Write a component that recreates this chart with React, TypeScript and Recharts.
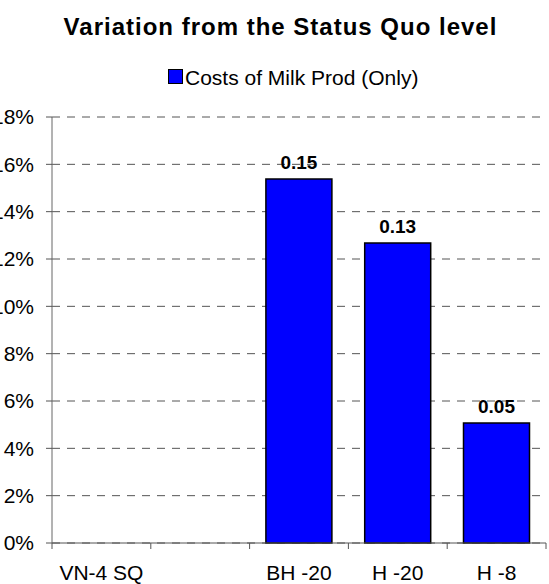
import React from 'react';
import { BarChart, Bar, XAxis, YAxis, CartesianGrid, LabelList } from 'recharts';

// categories on the x axis (second slot is empty in the source chart)
const CATEGORIES = ['VN-4 SQ', '', 'BH -20', 'H -20', 'H -8'];
// share of variation from status quo; null = no bar
const MILK_COSTS: (number | null)[] = [null, null, 0.1538, 0.1268, 0.0507];
const Y_TICKS = [0, 0.02, 0.04, 0.06, 0.08, 0.1, 0.12, 0.14, 0.16, 0.18];

const SERIES_NAME = 'Costs of Milk Prod (Only)';
const FONT = '"Liberation Sans", Arial, sans-serif';

const data = CATEGORIES.map((name, i) => ({ name, value: MILK_COSTS[i] }));

const CategoryTick = (props: any) => {
  const { x, y, payload, index } = props;
  const half = payload.offset ?? 0;
  const axisY = y - 22;
  return (
    <g>
      <line x1={x - half} x2={x - half} y1={axisY} y2={axisY + 6} stroke="#555" />
      {index === CATEGORIES.length - 1 && (
        <line x1={x + half} x2={x + half} y1={axisY} y2={axisY + 6} stroke="#555" />
      )}
      <text x={x} y={y} dy="0.71em" textAnchor="middle" fontSize={21} fill="#000" fontFamily={FONT}>
        {payload.value}
      </text>
    </g>
  );
};

export default function App() {
  return (
    <div
      style={{
        position: 'absolute',
        top: 0,
        left: 0,
        width: 549,
        height: 584,
        overflow: 'hidden',
        fontFamily: FONT,
        background: '#fff',
      }}
    >
      <div
        style={{
          position: 'absolute',
          top: 15,
          left: 6,
          width: 549,
          textAlign: 'center',
          fontSize: 24,
          lineHeight: '24px',
          fontWeight: 'bold',
          letterSpacing: 1,
        }}
      >
        Variation from the Status Quo level
      </div>
      <div style={{ position: 'absolute', top: 67, left: 168, display: 'flex', alignItems: 'flex-start' }}>
        <div style={{ width: 13, height: 13, marginTop: 2, background: '#0000FF', border: '1.5px solid #000' }} />
        <span style={{ marginLeft: 2, fontSize: 21, lineHeight: '21px' }}>{SERIES_NAME}</span>
      </div>
      <BarChart
        width={549}
        height={584}
        data={data}
        margin={{ top: 117, right: 3, left: 0, bottom: 0 }}
        barCategoryGap="16.5%"
      >
        <CartesianGrid vertical={false} stroke="#555" strokeDasharray="8 7" />
        <XAxis
          dataKey="name"
          height={41}
          axisLine={{ stroke: '#555' }}
          tickLine={false}
          tickSize={0}
          tickMargin={22}
          interval={0}
          tick={<CategoryTick />}
        />
        <YAxis
          width={52}
          domain={[0, 0.18]}
          ticks={Y_TICKS}
          interval={0}
          axisLine={{ stroke: '#666' }}
          tickLine={{ stroke: '#555' }}
          tickSize={6}
          tickMargin={12}
          tick={{ fill: '#000', fontSize: 21, fontFamily: FONT }}
          tickFormatter={(v: number) => `${Math.round(v * 100)}%`}
        />
        <Bar dataKey="value" name={SERIES_NAME} fill="#0000FF" stroke="#000" strokeWidth={1.5} isAnimationActive={false}>
          <LabelList
            dataKey="value"
            position="top"
            offset={10}
            formatter={(v: any) => (v == null ? '' : Number(v).toFixed(2))}
            style={{ fontSize: 19, fontWeight: 'bold', fill: '#000', fontFamily: FONT }}
          />
        </Bar>
      </BarChart>
    </div>
  );
}
